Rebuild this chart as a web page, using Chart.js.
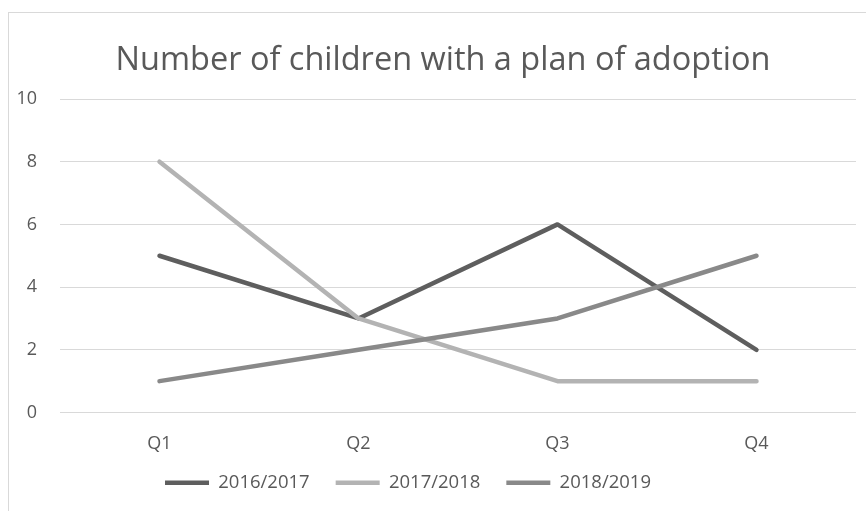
<!DOCTYPE html>
<html>
<head>
<meta charset="utf-8">
<script src="https://cdn.jsdelivr.net/npm/chart.js@4/dist/chart.umd.min.js"></script>
<style>
	html, body { margin: 0; padding: 0; background: #fff; }
	.frame {
		position: absolute;
		left: 8px;
		top: 12px;
		width: 900px;
		height: 540px;
		border-left: 1px solid #d9d9d9;
		border-top: 1px solid #d9d9d9;
	}
	.chart-wrap {
		position: absolute;
		left: 0;
		top: 0;
		width: 866px;
		height: 511px;
	}
</style>
</head>
<body>
<div class="frame"></div>
<div class="chart-wrap"><canvas id="chart" width="866" height="511"></canvas></div>
<script>
const quarters = ['Q1', 'Q2', 'Q3', 'Q4'];
const years = ['2016/2017', '2017/2018', '2018/2019'];
const values2016 = [5, 3, 6, 2];
const values2017 = [8, 3, 1, 1];
const values2018 = [1, 2, 3, 5];
const lineColors = ['#5e5e5e', '#b3b3b3', '#898989'];

const textColor = '#595959';
const gridColor = '#d9d9d9';
const fontFamily = '"Open Sans", "Noto Sans", sans-serif';

function makeDataset(label, data, index) {
	return {
		label,
		data,
		borderColor: lineColors[index],
		backgroundColor: lineColors[index],
		borderWidth: 4.5,
		borderCapStyle: 'round',
		borderJoinStyle: 'round',
		pointRadius: 0,
		pointHoverRadius: 0,
		tension: 0,
		// later series sit on top
		order: 3 - index,
	};
}

// nudge title right and legend left/up so they sit like the Excel layout
const blockOffsets = {
	id: 'blockOffsets',
	afterLayout(chart) {
		const titleShift = 15;
		const legendShiftX = -20;
		const legendShiftY = -9;
		if (chart.titleBlock) {
			chart.titleBlock.left += titleShift;
			chart.titleBlock.right += titleShift;
		}
		if (chart.legend) {
			chart.legend.left += legendShiftX;
			chart.legend.right += legendShiftX;
			chart.legend.top += legendShiftY;
			chart.legend.bottom += legendShiftY;
		}
	},
};

const datasets = [values2016, values2017, values2018].map((values, i) => makeDataset(years[i], values, i));

new Chart(document.getElementById('chart'), {
	type: 'line',
	data: {
		labels: quarters,
		datasets,
	},
	plugins: [blockOffsets],
	options: {
		responsive: false,
		animation: false,
		layout: {
			padding: { left: 0, right: 10, top: 0, bottom: 0 },
		},
		plugins: {
			title: {
				display: true,
				text: 'Number of children with a plan of adoption',
				color: textColor,
				font: { family: fontFamily, size: 32.5, weight: 'normal' },
				padding: { top: 41, bottom: 19 },
			},
			legend: {
				position: 'bottom',
				labels: {
					color: textColor,
					font: { family: fontFamily, size: 18.5 },
					usePointStyle: true,
					pointStyle: 'line',
					pointStyleWidth: 44,
					padding: 26,
					sort: (a, b) => a.datasetIndex - b.datasetIndex,
				},
			},
			tooltip: { enabled: false },
		},
		scales: {
			x: {
				offset: true,
				grid: { display: false },
				border: { display: false },
				ticks: {
					color: textColor,
					font: { family: fontFamily, size: 18 },
					padding: 13,
				},
				afterFit: (axis) => {
					axis.height = 44;
				},
			},
			y: {
				min: 0,
				max: 10,
				grid: { color: gridColor, lineWidth: 1, drawTicks: false },
				border: { display: false },
				ticks: {
					stepSize: 2,
					color: textColor,
					font: { family: fontFamily, size: 18 },
					padding: 23,
				},
				afterFit: (axis) => {
					axis.width = 60;
				},
			},
		},
	},
});
</script>
</body>
</html>
